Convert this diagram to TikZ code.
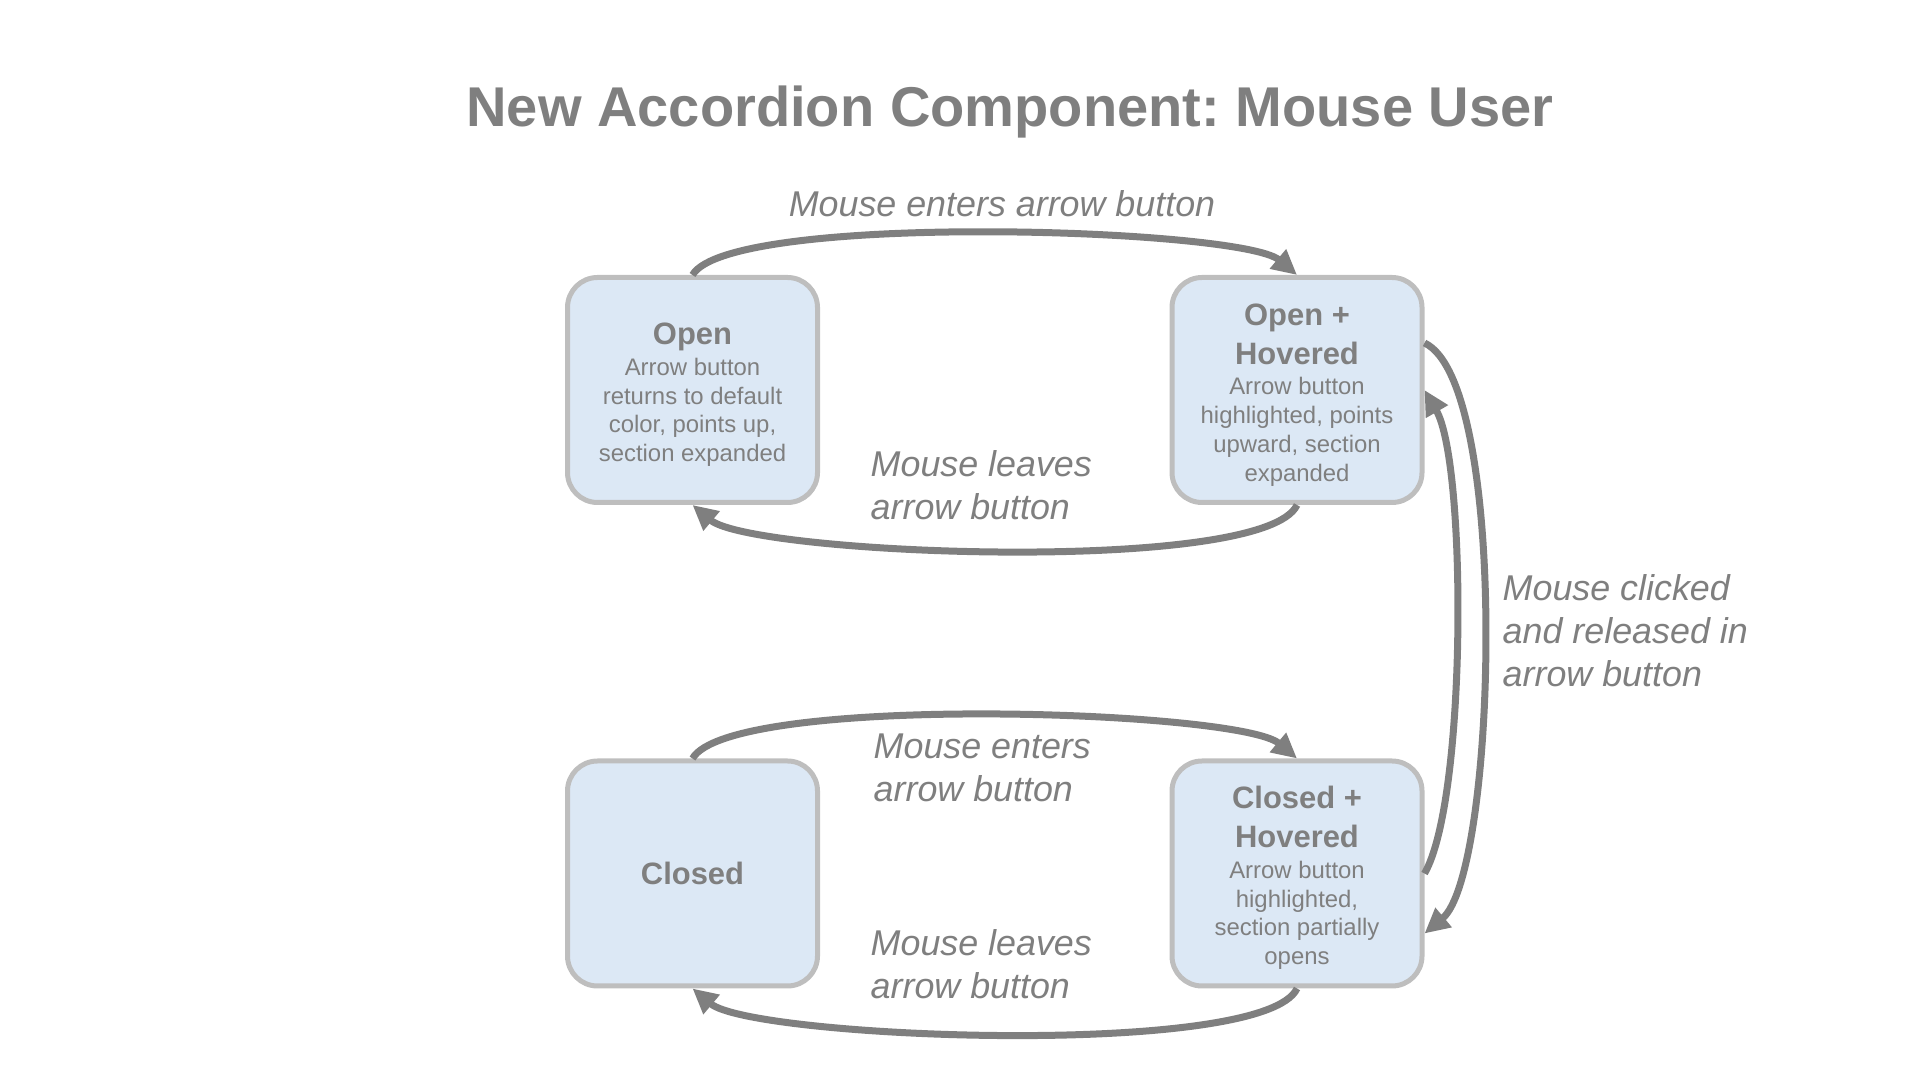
\documentclass[tikz,border=0pt]{standalone}
\usepackage{fontspec}
\setmainfont{Liberation Sans}
\usetikzlibrary{arrows.meta}
\definecolor{txtgray}{HTML}{7F7F7F}
\definecolor{boxfill}{HTML}{DCE8F5}
\definecolor{boxline}{HTML}{BEBEBE}
\newcommand{\headfnt}{\fontsize{8.8}{11.1}\selectfont\bfseries}
\newcommand{\bodyfnt}{\fontsize{6.8}{8.2}\selectfont}
\newcommand{\edgefnt}{\fontsize{10.2}{12.2}\selectfont\itshape}
\frenchspacing
\begin{document}
\begin{tikzpicture}[
  state/.style={draw=boxline, line width=0.05cm, fill=boxfill, rounded corners=0.3cm,
    minimum width=2.5cm, minimum height=2.25cm, inner sep=0pt, text width=2.3cm,
    align=flush center, text=txtgray},
  move/.style={draw=txtgray, line width=0.07cm, -{Triangle[length=0.25cm,width=0.24cm]}},
  lbl/.style={text=txtgray, inner sep=0pt, align=left, font=\edgefnt}
]
\useasboundingbox (0,0) rectangle (19.2,10.8);
\node[text=txtgray, font=\fontsize{15.95}{19}\selectfont\bfseries, anchor=base] (title) at (10.10,9.53) {New Accordion Component: Mouse User};

\node[state] (open) at (6.925,6.90) {\vskip-0.075cm{\headfnt Open\par}\vskip0.5pt
  {\bodyfnt Arrow button\\ returns to default\\ color, points up,\\ section expanded\par}};
\node[state] (ohov) at (12.97,6.90) {\vskip-0.075cm{\headfnt Open +\\ Hovered\par}\vskip0.5pt
  {\bodyfnt Arrow button\\ highlighted, points\\ upward, section\\ expanded\par}};
\node[state] (closed) at (6.925,2.065) {{\headfnt Closed\par}};
\node[state] (chov) at (12.97,2.065) {\vskip-0.075cm{\headfnt Closed +\\ Hovered\par}\vskip0.5pt
  {\bodyfnt Arrow button\\ highlighted,\\ section partially\\ opens\par}};

\draw[move] (open.north) to[out=60,in=140,looseness=0.31] (ohov.north);
\draw[move] (ohov.south) to[out=-115,in=-40,looseness=0.33] (open.south);
\draw[move] (closed.north) to[out=60,in=140,looseness=0.32] (chov.north);
\draw[move] (chov.south) to[out=-115,in=-40,looseness=0.33] (closed.south);
\draw[move] ([yshift=0.47cm]ohov.east) to[out=-25,in=40,looseness=0.41] ([yshift=-0.6cm]chov.east);
\draw[move] (chov.east) to[out=60,in=-60,looseness=0.45] (ohov.east);

\node[lbl, anchor=base] (enter1) at (10.02,8.63) {Mouse enters arrow button};
\node[lbl, anchor=west] (leave1) at (8.70,5.95) {Mouse leaves\\arrow button};
\node[lbl, anchor=west] (enter2) at (8.73,3.12) {Mouse enters\\arrow button};
\node[lbl, anchor=west] (leave2) at (8.70,1.155) {Mouse leaves\\arrow button};
\node[lbl, anchor=west] (click) at (15.02,4.49) {Mouse clicked\\and released in\\arrow button};
\end{tikzpicture}
\end{document}
